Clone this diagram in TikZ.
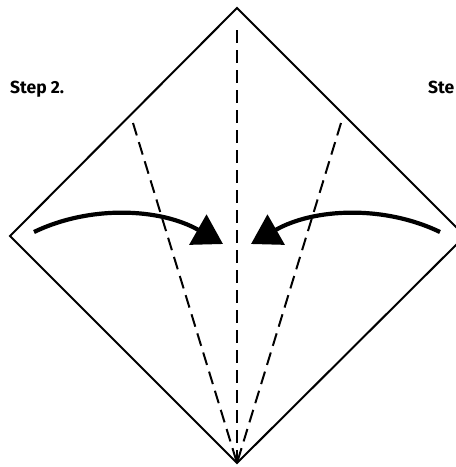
\documentclass[tikz,border=0pt]{standalone}
\usepackage{fontspec}
\setmainfont{Fira Sans}
\usepackage{tikz}
\usetikzlibrary{arrows.meta, positioning}

\begin{document}
\begin{tikzpicture}[x=1pt, y=-1pt, line join=miter,
        fold/.style={dashed, dash pattern=on 13pt off 7pt, line width=2pt},
        edge/.style={line width=2pt},
        move/.style={line width=4.2pt, -{Triangle[length=29pt, width=34pt]}},
        steplabel/.style={anchor=base west, inner sep=0pt, font=\bfseries\fontsize{17.5}{20}\selectfont}]
        \useasboundingbox (0,0) rectangle (456,467);

        \coordinate (T) at (237,8);
        \coordinate (L) at (10,236);
        \coordinate (R) at (465,236);
        \coordinate (B) at (237,463);

        % paper square
        \begin{scope}
            \clip (0,0) rectangle (456,467);
            \draw[edge] (T) -- (R) -- (B) -- (L) -- cycle;
        \end{scope}

        % fold lines
        \coordinate (FL) at (133,123);
        \coordinate (FR) at (341,123);
        \coordinate (FC) at (237,30);
        \draw[fold] (FC) -- (B);
        \draw[fold] (FL) -- (B);
        \draw[fold] (FR) -- (B);

        % arrows
        \coordinate (AL) at (34,232);
        \coordinate (AR) at (440,232);
        \coordinate (tipL) at (223,244);
        \coordinate (tipR) at (251,244);
        \draw[move] (AL) .. controls (90,205) and (160,208) .. (tipL);
        \draw[move] (AR) .. controls (384,205) and (314,208) .. (tipR);

        \node[steplabel] (step2) at (10,93) {Step 2.};
        \node[steplabel] (step3) at (428,93) {Ste};
    \end{tikzpicture}
\end{document}
